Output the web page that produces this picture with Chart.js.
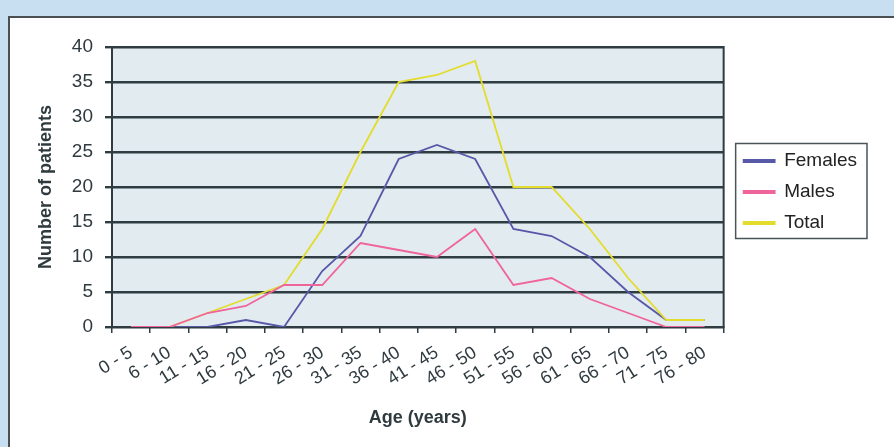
<!DOCTYPE html>
<html>
<head>
<meta charset="utf-8">
<script src="https://cdn.jsdelivr.net/npm/chart.js@4/dist/chart.umd.min.js"></script>
<style>
  html, body { margin: 0; padding: 0; }
  body { width: 894px; height: 447px; background: #c8dff1; position: relative; overflow: hidden; }
  .panel { position: absolute; left: 8px; top: 16px; width: 900px; height: 440px; background: #fff; border: 2px solid #4a4f52; }
  .wrap { position: absolute; left: 0; top: 0; width: 894px; height: 447px; }
</style>
</head>
<body>
<div class="panel"></div>
<div class="wrap"><canvas id="ageChart" width="894" height="447"></canvas></div>
<script>
const ageGroups = ['0 - 5', '6 - 10', '11 - 15', '16 - 20', '21 - 25', '26 - 30', '31 - 35', '36 - 40',
    '41 - 45', '46 - 50', '51 - 55', '56 - 60', '61 - 65', '66 - 70', '71 - 75', '76 - 80'];
const females = [0, 0, 0, 1, 0, 8, 13, 24, 26, 24, 14, 13, 10, 5, 1, 1];
const males = [0, 0, 2, 3, 6, 6, 12, 11, 10, 14, 6, 7, 4, 2, 0, 0];
const total = [0, 0, 2, 4, 6, 14, 25, 35, 36, 38, 20, 20, 14, 7, 1, 1];
const yTicks = [0, 5, 10, 15, 20, 25, 30, 35, 40];

const inkColor = '#2f3a3f';
const gridColor = '#2f3d42';

Chart.defaults.font.family = '"Liberation Sans", Arial, sans-serif';
Chart.defaults.color = inkColor;

// plot background, frame and the box round the legend
const framePlugin = {
    id: 'framePlugin',
    afterLayout: (chart) => {
        // legend sits beside the plot area only, nudged a bit right
        const lg = chart.legend;
        const area = chart.chartArea;
        lg.left += 8;
        lg.right += 8;
        lg.top = area.top + 5;
        lg.bottom = area.bottom + 5;
        lg.height = lg.bottom - lg.top;
    },
    beforeDraw: (chart) => {
        const { ctx, chartArea } = chart;
        ctx.save();
        ctx.fillStyle = '#e2ebef';
        ctx.fillRect(chartArea.left, chartArea.top, chartArea.right - chartArea.left, chartArea.bottom - chartArea.top);
        ctx.restore();
    },
    beforeDatasetsDraw: (chart) => {
        const { ctx, chartArea } = chart;
        ctx.save();
        ctx.strokeStyle = gridColor;
        ctx.lineWidth = 2;
        ctx.strokeRect(chartArea.left, chartArea.top, chartArea.right - chartArea.left, chartArea.bottom - chartArea.top);
        ctx.restore();
    },
    afterDraw: (chart) => {
        const { ctx } = chart;
        const boxes = chart.legend.legendHitBoxes;
        if (boxes && boxes.length) {
            const x0 = Math.min(...boxes.map(b => b.left)) - 8;
            const x1 = Math.max(...boxes.map(b => b.left + b.width)) + 10;
            const y0 = boxes[0].top - 8;
            const y1 = boxes[boxes.length - 1].top + boxes[boxes.length - 1].height + 6;
            ctx.save();
            ctx.strokeStyle = '#4a5559';
            ctx.lineWidth = 1.5;
            ctx.strokeRect(x0, y0, x1 - x0, y1 - y0);
            ctx.restore();
        }
    }
};

const ctx = document.getElementById('ageChart').getContext('2d');
new Chart(ctx, {
    type: 'line',
    data: {
        labels: ageGroups,
        datasets: [
            { label: 'Females', data: females, borderColor: '#5858a8', backgroundColor: '#5858a8', borderWidth: 1.8, order: 2 },
            { label: 'Males', data: males, borderColor: '#f0649c', backgroundColor: '#f0649c', borderWidth: 1.8, order: 0 },
            { label: 'Total', data: total, borderColor: '#e4dc2c', backgroundColor: '#e4dc2c', borderWidth: 1.8, order: 1 }
        ]
    },
    options: {
        responsive: false,
        animation: false,
        devicePixelRatio: 1,
        layout: { padding: { left: 30, top: 47, right: 35, bottom: 0 } },
        elements: { point: { radius: 0 }, line: { tension: 0 } },
        scales: {
            x: {
                type: 'category',
                offset: true,
                grid: { offset: true, drawOnChartArea: false, drawTicks: true, tickLength: 6, color: gridColor, lineWidth: 1.5 },
                border: { display: true, color: gridColor, width: 2 },
                ticks: { minRotation: 32, maxRotation: 32, autoSkip: false, padding: 9, font: { size: 18 }, color: inkColor },
                title: { display: true, text: 'Age (years)', font: { size: 18, weight: 'bold' }, color: inkColor, padding: { top: 4, bottom: 18 } },
                afterFit: (scale) => { scale.height = 120; }
            },
            y: {
                min: 0,
                max: 40,
                afterBuildTicks: (scale) => { scale.ticks = yTicks.map(v => ({ value: v })); },
                grid: { color: gridColor, lineWidth: 2.4, tickLength: 7 },
                border: { display: true, color: gridColor, width: 2 },
                ticks: { padding: 12, font: { size: 19 }, color: inkColor },
                title: { display: true, text: 'Number of patients', font: { size: 18, weight: 'bold' }, color: inkColor, padding: { top: 5, bottom: 0 } },
                afterFit: (scale) => { scale.width = 82; }
            }
        },
        plugins: {
            legend: {
                position: 'right',
                labels: {
                    boxWidth: 31, boxHeight: 2, padding: 12, font: { size: 19 }, color: '#222',
                    sort: (a, b) => a.datasetIndex - b.datasetIndex
                }
            },
            tooltip: { enabled: false }
        }
    },
    plugins: [framePlugin]
});
</script>
</body>
</html>
